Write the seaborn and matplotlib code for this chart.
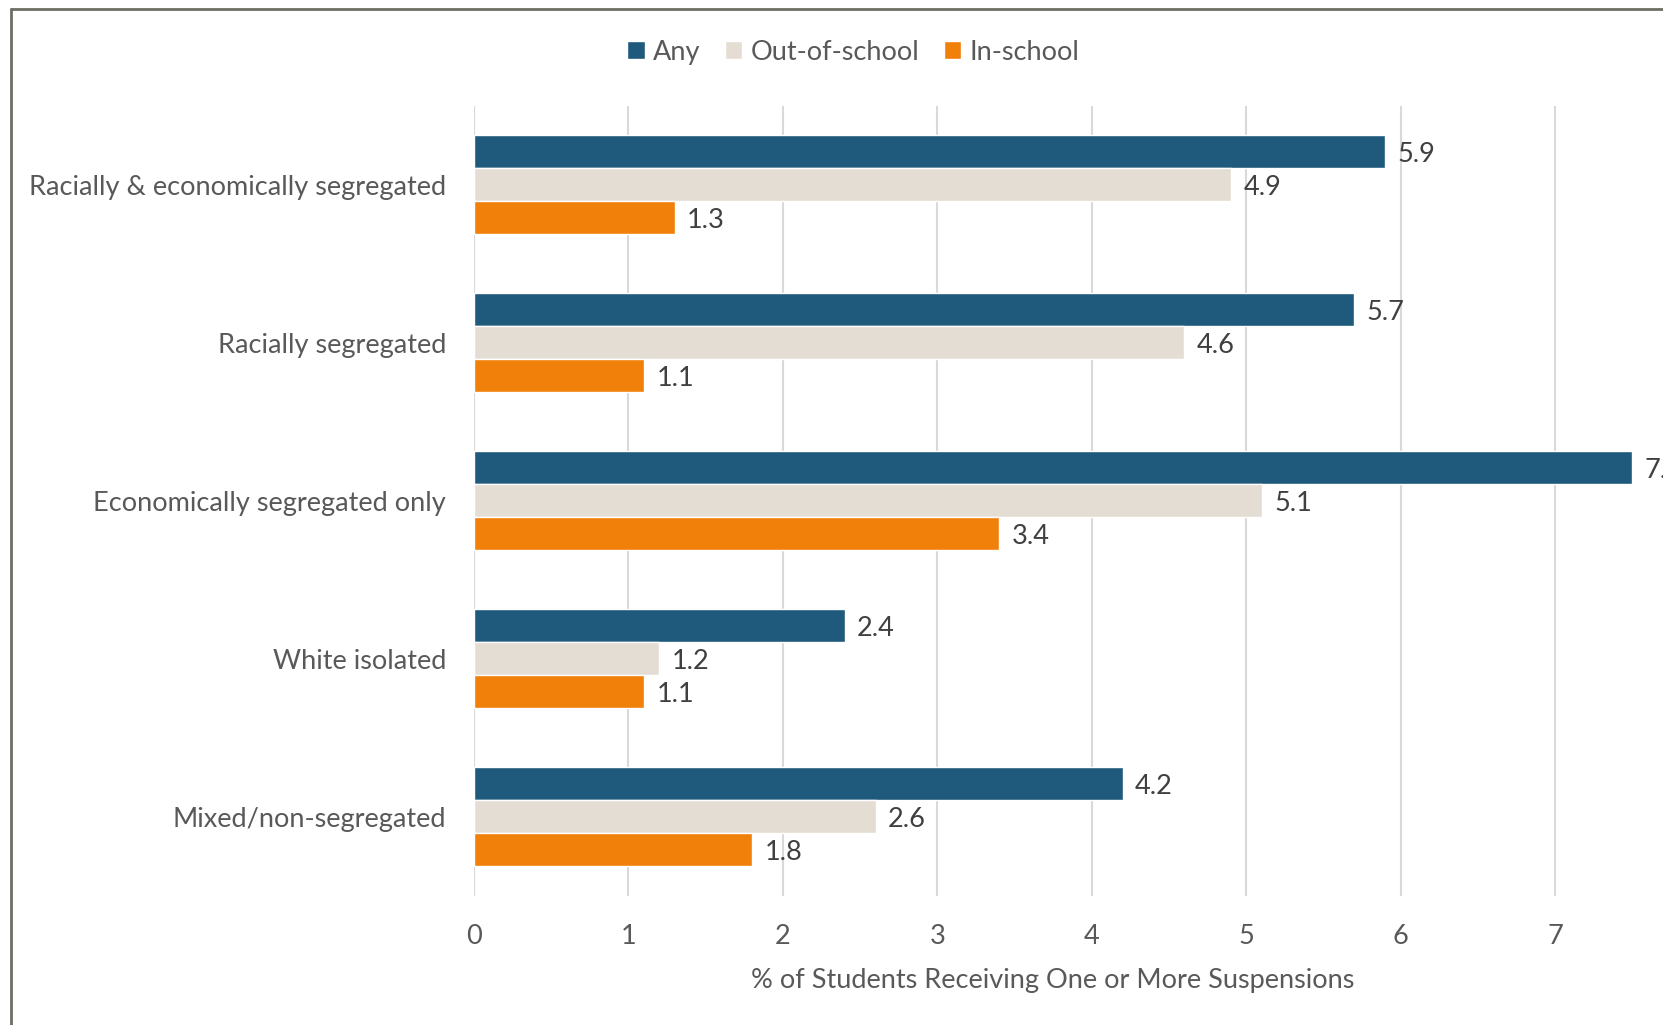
import numpy as np
import pandas as pd
import seaborn as sns
import matplotlib.pyplot as plt
from matplotlib.lines import Line2D

categories = ["Racially & economically segregated", "Racially segregated",
              "Economically segregated only", "White isolated", "Mixed/non-segregated"]
series = ["Any", "Out-of-school", "In-school"]
any_vals = [5.9, 5.7, 7.5, 2.4, 4.2]
out_vals = [4.9, 4.6, 5.1, 1.2, 2.6]
in_vals = [1.3, 1.1, 3.4, 1.1, 1.8]
x_ticks = [0, 1, 2, 3, 4, 5, 6, 7]

df = pd.DataFrame({
    "category": categories * 3,
    "type": [s for s in series for _ in categories],
    "value": any_vals + out_vals + in_vals,
})

colors = ["#1F5A7C", "#E4DDD3", "#F0800A"]
text_grey = "#595959"

sns.set_theme(style="white")
plt.rcParams["font.family"] = ["Lato", "DejaVu Sans"]

fig = plt.figure(figsize=(16.63, 10.25), dpi=100)
ax = fig.add_axes([0.285, 0.126, 0.743, 0.771])

sns.barplot(data=df, y="category", x="value", hue="type", order=categories,
            hue_order=series, palette=colors, orient="h", width=0.625,
            saturation=1, ax=ax, zorder=3)

for c in ax.containers:
    labels = ax.bar_label(c, fmt="%.1f", padding=9, fontsize=19.5, color="#404040")
    for t in labels:
        t.set_va("center_baseline")

ax.set_xlim(0, 8)
ax.set_ylim(4.5, -0.5)
ax.set_xticks(x_ticks)
ax.tick_params(axis="both", length=0, labelsize=19.5, colors=text_grey)
ax.tick_params(axis="x", pad=20)
ax.tick_params(axis="y", pad=20)
ax.set_ylabel("")
ax.set_xlabel("% of Students Receiving One or More Suspensions", fontsize=19.5,
              color=text_grey)
ax.xaxis.set_label_coords(0.468, -0.0915)
ax.grid(axis="x", color="#D9D9D9", linewidth=1.5, zorder=0)
ax.grid(axis="y", visible=False)
for s in ax.spines.values():
    s.set_visible(False)

handles, labels = ax.get_legend_handles_labels()
ax.get_legend().remove()
fig.legend(handles, labels, loc="center", bbox_to_anchor=(0.513, 0.949), ncol=3,
           frameon=False, fontsize=19.5, handlelength=0.65, handleheight=0.65,
           handletextpad=0.3, columnspacing=0.9, labelcolor=text_grey)

fig.add_artist(Line2D([0.0066, 0.0066], [0, 0.991], color="#6E6E64", lw=2))
fig.add_artist(Line2D([0.0066, 1.0], [0.991, 0.991], color="#6E6E64", lw=2))

fig.savefig("out.png", dpi=100)
